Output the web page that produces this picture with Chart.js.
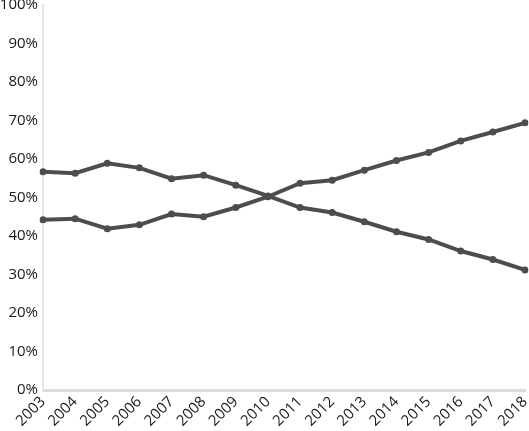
<!DOCTYPE html>
<html>
<head>
<meta charset="utf-8">
<script src="https://cdn.jsdelivr.net/npm/chart.js@4/dist/chart.umd.min.js"></script>
<style>
html,body{margin:0;padding:0;background:#fff;}
#wrap{width:529px;height:431px;position:relative;}
</style>
</head>
<body>
<div id="wrap"><canvas id="c"></canvas></div>
<script>
const years = ["2003","2004","2005","2006","2007","2008","2009","2010","2011","2012","2013","2014","2015","2016","2017","2018"];
const seriesA = [56.7,56.3,58.9,57.7,54.9,55.8,53.2,50.4,47.4,46.1,43.7,41.1,39.1,36.1,33.9,31.2];
const seriesB = [44.2,44.5,41.9,42.9,45.7,45.0,47.4,50.2,53.7,54.5,57.1,59.6,61.7,64.7,67.0,69.4];
const yTicks = [0,10,20,30,40,50,60,70,80,90,100];

const lineColor = '#4d4d4d';
function ds(data){
  return {data, borderColor: lineColor, backgroundColor: lineColor, borderWidth: 4,
    pointRadius: 3.5, pointHoverRadius: 3.5, pointBorderWidth: 0, tension: 0, fill: false};
}
new Chart(document.getElementById('c'), {
  type: 'line',
  data: { labels: years, datasets: [ds(seriesA), ds(seriesB)] },
  options: {
    responsive: true, maintainAspectRatio: false, animation: false,
    layout: { padding: { top: 0, right: 0, left: 0, bottom: 0 } },
    plugins: { legend: { display: false }, tooltip: { enabled: false } },
    scales: {
      x: {
        offset: false,
        afterFit: (axis) => { axis.height = 41; axis.paddingRight = 4; axis.paddingLeft = 0; },
        grid: { display: false, drawTicks: false },
        border: { display: true, color: '#dcdcdc', width: 3 },
        ticks: { color: '#1a1a1a', font: { family: 'Open Sans', size: 15 }, maxRotation: 45, minRotation: 45, autoSkip: false, padding: 3 }
      },
      y: {
        min: 0, max: 100,
        afterBuildTicks: (axis) => { axis.ticks = yTicks.map(v => ({ value: v })); },
        afterFit: (axis) => { axis.width = 43; axis.paddingTop = 5; axis.paddingBottom = 0; },
        grid: { display: false, drawTicks: false },
        border: { display: true, color: '#e6e6e6', width: 2 },
        ticks: { color: '#1a1a1a', font: { family: 'Open Sans', size: 15 }, padding: 5, callback: v => v + '%' }
      }
    }
  }
});
</script>
</body>
</html>
